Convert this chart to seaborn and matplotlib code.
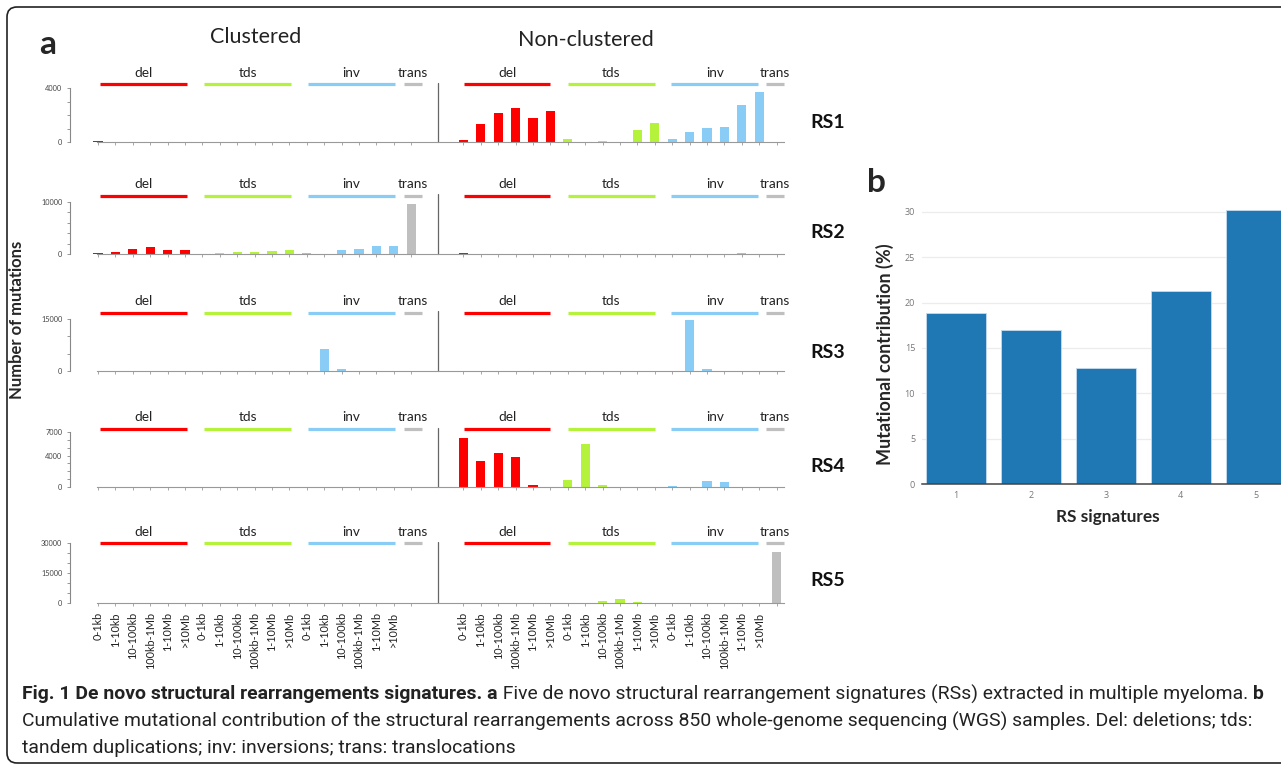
import numpy as np
import pandas as pd
import matplotlib
matplotlib.use("Agg")
import matplotlib.pyplot as plt
import seaborn as sns
from matplotlib import font_manager, transforms
from matplotlib.patches import FancyBboxPatch

# ---------------- data ----------------
size_bins = ["0-1kb", "1-10kb", "10-100kb", "100kb-1Mb", "1-10Mb", ">10Mb"]
sv_types = ["del", "tds", "inv", "trans"]
bar_types = ["del"] * 6 + ["tds"] * 6 + ["inv"] * 6 + ["trans"]
category_labels = size_bins * 3 + [""]
signatures = ["RS1", "RS2", "RS3", "RS4", "RS5"]

# order: del x6, tds x6, inv x6, trans
rs1_clustered = [40, 0, 0, 0, 0, 0,  0, 0, 0, 0, 0, 0,  0, 0, 0, 0, 0, 0,  0]
rs1_nonclustered = [170, 1350, 2150, 2490, 1780, 2320,  245, 0, 50, 0, 890, 1380,
                    245, 760, 1010, 1080, 2710, 3700,  0]
rs2_clustered = [250, 380, 960, 1280, 770, 770,  0, 150, 300, 380, 620, 770,
                 190, 0, 770, 960, 1470, 1470,  9700]
rs2_nonclustered = [150, 0, 80, 80, 80, 0,  80, 0, 0, 0, 50, 0,  0, 0, 80, 50, 100, 0,  50]
rs3_clustered = [60, 0, 0, 0, 0, 0,  0, 0, 0, 0, 0, 0,  0, 6250, 480, 0, 0, 0,  0]
rs3_nonclustered = [0, 0, 0, 0, 0, 0,  0, 0, 0, 0, 0, 0,  120, 14600, 580, 0, 0, 0,  0]
rs4_clustered = [60, 0, 0, 0, 0, 0,  0, 0, 0, 0, 0, 0,  0, 0, 0, 0, 0, 0,  0]
rs4_nonclustered = [6300, 3250, 4300, 3800, 200, 0,  950, 5500, 250, 0, 0, 0,
                    80, 0, 820, 600, 0, 0,  0]
rs5_clustered = [200, 0, 0, 0, 0, 0,  0, 0, 0, 0, 0, 0,  0, 0, 0, 0, 0, 0,  0]
rs5_nonclustered = [0, 0, 0, 0, 0, 0,  100, 100, 1200, 2200, 500, 0,
                    150, 100, 0, 0, 0, 0,  25400]

y_max = [4000, 10000, 15000, 7000, 30000]
y_step = [1000, 2000, 5000, 1000, 5000]
y_labeled = [[0, 4000], [0, 10000], [0, 15000], [0, 4000, 7000], [0, 15000, 30000]]

rs_numbers = ["1", "2", "3", "4", "5"]
contribution_pct = [18.8, 17.0, 12.8, 21.3, 30.2]

clustered = [rs1_clustered, rs2_clustered, rs3_clustered, rs4_clustered, rs5_clustered]
nonclustered = [rs1_nonclustered, rs2_nonclustered, rs3_nonclustered,
                rs4_nonclustered, rs5_nonclustered]

# ---------------- style ----------------
W, H = 1281, 769
sns.set_theme(style="white")
names = {f.name for f in font_manager.fontManager.ttflist}
MAIN = "Lato" if "Lato" in names else "DejaVu Sans"
PLOTLY = "Open Sans" if "Open Sans" in names else "DejaVu Sans"
CAP = "Liberation Sans Narrow" if "Liberation Sans Narrow" in names else (
    "Roboto" if "Roboto" in names else "DejaVu Sans")
plt.rcParams['font.family'] = [MAIN, 'DejaVu Sans']

type_colors = {"del": "#ff0000", "tds": "#b5f23c", "inv": "#89cdf6", "trans": "#bfbfbf"}

fig = plt.figure(figsize=(W / 100, H / 100), dpi=100)
fig.patch.set_facecolor("white")


def fx(px):
    return px / W


def fy(py):
    return 1 - py / H


def add_ax_px(left, top, right, bottom):
    return fig.add_axes([fx(left), fy(bottom), (right - left) / W, (bottom - top) / H])


# ---------------- panel a layout ----------------
X0_PX, STEP_PX = 98.0, 17.4
AX_L, AX_R = 70, 790
row_y0 = [142, 254, 371, 487, 603]
row_ytop = [88, 202, 319, 432, 543]
header_y = [84, 195.5, 313, 429, 543]
header_text_y = [73, 184, 301, 417, 532]
rs_label_y = [122, 232, 352, 467, 581]

clu_pos = list(range(0, 19))
non_pos = list(range(21, 40))
divider_x = 19.54
header_spans = {
    "clu": [("del", 0.1, 5.1), ("tds", 6.1, 11.1), ("inv", 12.05, 17.05), ("trans", 17.6, 18.6)],
    "non": [("del", 21.05, 26.0), ("tds", 27.0, 32.0), ("inv", 32.95, 37.95), ("trans", 38.4, 39.4)],
}

for r in range(5):
    ax = add_ax_px(AX_L, row_ytop[r], AX_R, row_y0[r])
    df = pd.DataFrame({
        "pos": clu_pos + non_pos,
        "value": list(clustered[r]) + list(nonclustered[r]),
        "type": bar_types + bar_types,
    })
    sns.barplot(data=df, x="pos", y="value", hue="type", palette=type_colors,
                native_scale=True, dodge=False, width=0.52, errorbar=None,
                saturation=1, legend=False, ax=ax, linewidth=0)
    ax.set_xlabel("")
    ax.set_ylabel("")
    ax.set_xlim((AX_L - X0_PX) / STEP_PX, (AX_R - X0_PX) / STEP_PX)
    ax.set_ylim(0, y_max[r])
    ax.set_facecolor("none")
    for s in ["top", "right"]:
        ax.spines[s].set_visible(False)
    ax.spines["left"].set_color("#888888")
    ax.spines["left"].set_linewidth(0.8)
    ax.spines["bottom"].set_color("#999999")
    ax.spines["bottom"].set_linewidth(0.8)
    ax.spines["bottom"].set_bounds(-0.07, 39.4)

    yt = np.arange(0, y_max[r] + 1, y_step[r])
    ax.set_yticks(yt)
    ax.set_yticklabels([str(int(v)) if int(v) in y_labeled[r] else "" for v in yt],
                       fontsize=5.3, color="#444444")
    ax.tick_params(axis="y", length=2.5, width=0.6, color="#888888", pad=3, left=True)

    ax.set_xticks(clu_pos + non_pos)
    if r == 4:
        ax.set_xticklabels(category_labels + category_labels, rotation=90,
                           fontsize=7.8, color="#222222")
    else:
        ax.set_xticklabels([""] * 38)
    ax.tick_params(axis="x", length=2.5, width=0.6, color="#999999", pad=4, bottom=True)

    blend = transforms.blended_transform_factory(ax.transData, fig.transFigure)
    ax.plot([divider_x, divider_x], [fy(row_y0[r]), fy(header_y[r] - 1.5)],
            transform=blend, color="#666666", lw=0.9, clip_on=False)
    for grp in ["clu", "non"]:
        for name, a, b in header_spans[grp]:
            ax.plot([a, b], [fy(header_y[r])] * 2, transform=blend, color=type_colors[name],
                    lw=2.3, solid_capstyle="butt", clip_on=False)
            ax.text((a + b) / 2, fy(header_text_y[r]), name, transform=blend,
                    ha="center", va="center", fontsize=9.8, color="#222222")
    fig.text(fx(828), fy(rs_label_y[r]), signatures[r], ha="center", va="center",
             fontsize=14, fontweight="bold", color="#111111")

fig.text(fx(48), fy(44), "a", fontsize=24, fontweight="bold", ha="center", va="center")
fig.text(fx(256), fy(37), "Clustered", fontsize=15.5, ha="center", va="center", color="#222222")
fig.text(fx(586), fy(40), "Non-clustered", fontsize=15.5, ha="center", va="center", color="#222222")
fig.text(fx(17), fy(320), "Number of mutations", rotation=90, fontsize=12,
         fontweight="bold", ha="center", va="center")

# ---------------- panel b ----------------
axb = add_ax_px(922, 201, 922 + 4.9 * 75, 484)
dfb = pd.DataFrame({"sig": rs_numbers, "pct": contribution_pct})
sns.barplot(data=dfb, x="sig", y="pct", color="#1f77b4", saturation=1, width=0.8,
            edgecolor="#c6dbef", linewidth=0.6, errorbar=None, ax=axb)
axb.set_xlim(-0.45, 4.45)
axb.set_ylim(0, 31.2)
axb.set_yticks([0, 5, 10, 15, 20, 25, 30])
axb.yaxis.grid(True, color="#ececec", lw=0.9)
axb.set_axisbelow(True)
for s in ["top", "right", "left"]:
    axb.spines[s].set_visible(False)
axb.spines["bottom"].set_color("#444444")
axb.spines["bottom"].set_linewidth(1.1)
axb.tick_params(axis="both", length=0, labelsize=6.5, labelcolor="#777777", pad=5)
for t in axb.get_xticklabels() + axb.get_yticklabels():
    t.set_fontfamily(PLOTLY)
axb.set_xlabel("")
axb.set_ylabel("")
fig.text(fx(876), fy(182), "b", fontsize=24, fontweight="bold", ha="center", va="center")
fig.text(fx(885), fy(354), "Mutational contribution (%)", rotation=90, fontsize=13,
         fontweight="bold", ha="center", va="center")
fig.text(fx(1108), fy(517), "RS signatures", fontsize=12.4, fontweight="bold",
         ha="center", va="center")

# ---------------- caption ----------------
renderer = fig.canvas.get_renderer()
line2 = ("Cumulative mutational contribution of the structural rearrangements across 850 "
         "whole-genome sequencing (WGS) samples. Del: deletions; tds:")
t2 = fig.text(fx(22), fy(721), line2, fontsize=11, family=CAP, ha="left", va="center",
              color="#222222")
w = t2.get_window_extent(renderer).width
cap_fs = 11 * 1226 / w
t2.set_fontsize(cap_fs)
fig.text(fx(22), fy(748), "tandem duplications; inv: inversions; trans: translocations",
         fontsize=cap_fs, family=CAP, ha="left", va="center", color="#222222")

pieces = [("Fig. 1 De novo structural rearrangements signatures. a", "bold"),
          (" Five de novo structural rearrangement signatures (RSs) extracted in multiple myeloma. ", "normal"),
          ("b", "bold")]
xcur = 22
for txt, wt in pieces:
    t = fig.text(fx(xcur), fy(694), txt, fontsize=cap_fs, family=CAP, fontweight=wt,
                 ha="left", va="center", color="#222222")
    xcur = t.get_window_extent(renderer).x1

frame = FancyBboxPatch((7, H - 763), 1300, 756, boxstyle="round,pad=0,rounding_size=10",
                       transform=transforms.IdentityTransform(), fill=False,
                       edgecolor="#222222", lw=1.2)
fig.add_artist(frame)

fig.savefig("out.png", dpi=100)
